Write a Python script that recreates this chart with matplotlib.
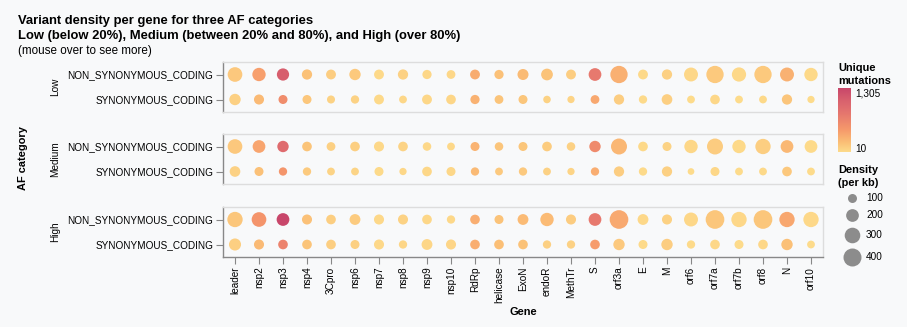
import matplotlib.pyplot as plt
import numpy as np
from matplotlib.colors import LinearSegmentedColormap, Normalize

# Genes along the x axis, effect types on the y axis, one panel per AF category
genes = ["leader", "nsp2", "nsp3", "nsp4", "3Cpro", "nsp6", "nsp7", "nsp8", "nsp9",
         "nsp10", "RdRp", "helicase", "ExoN", "endoR", "MethTr", "S", "orf3a", "E",
         "M", "orf6", "orf7a", "orf7b", "orf8", "N", "orf10"]
effects = ["NON_SYNONYMOUS_CODING", "SYNONYMOUS_CODING"]
af_categories = ["Low", "Medium", "High"]

# variant density (per kb)
low_nonsyn_density = [265, 220, 185, 130, 120, 160, 120, 130, 105, 95, 120, 105, 150,
                      170, 120, 200, 370, 120, 130, 240, 370, 250, 370, 240, 220]
low_syn_density = [160, 125, 100, 100, 80, 85, 120, 75, 120, 115, 105, 95, 100,
                   70, 65, 95, 130, 85, 140, 75, 115, 75, 75, 130, 65]
medium_nonsyn_density = [265, 200, 160, 115, 95, 115, 125, 115, 90, 75, 100, 90, 100,
                         115, 90, 160, 315, 115, 100, 220, 315, 220, 290, 200, 200]
medium_syn_density = [140, 100, 85, 85, 75, 75, 100, 65, 115, 100, 85, 75, 85,
                      75, 65, 85, 130, 85, 130, 55, 100, 75, 75, 115, 75]
high_nonsyn_density = [290, 265, 200, 125, 115, 145, 125, 125, 115, 85, 115, 100, 145,
                       220, 125, 200, 430, 145, 125, 240, 430, 290, 430, 290, 290]
high_syn_density = [180, 125, 115, 115, 115, 100, 125, 85, 145, 125, 115, 115, 115,
                    85, 85, 115, 160, 100, 160, 85, 115, 100, 115, 160, 75]

# unique mutations
low_nonsyn_count = [143, 420, 1080, 195, 110, 139, 30, 77, 36, 40, 336, 189, 237,
                    177, 107, 764, 307, 28, 87, 45, 137, 33, 137, 302, 26]
low_syn_count = [86, 240, 580, 150, 74, 74, 30, 45, 41, 48, 294, 171, 158,
                 73, 58, 363, 108, 20, 94, 14, 42, 10, 28, 164, 10]
medium_nonsyn_count = [143, 382, 934, 172, 87, 100, 31, 68, 31, 31, 280, 162, 158,
                       120, 80, 611, 261, 26, 67, 41, 115, 29, 106, 252, 23]
medium_syn_count = [76, 191, 496, 128, 69, 65, 25, 39, 39, 42, 238, 135, 134,
                    78, 58, 325, 108, 19, 87, 10, 37, 10, 27, 145, 10]
high_nonsyn_count = [157, 506, 1305, 188, 106, 126, 31, 74, 39, 35, 322, 180, 229,
                     228, 112, 764, 356, 33, 84, 45, 157, 38, 157, 365, 34]
high_syn_count = [97, 239, 671, 173, 106, 87, 31, 50, 49, 52, 322, 207, 182,
                  88, 76, 440, 133, 23, 107, 16, 42, 13, 42, 202, 10]

density_rows = [(low_nonsyn_density, low_syn_density),
                (medium_nonsyn_density, medium_syn_density),
                (high_nonsyn_density, high_syn_density)]
count_rows = [(low_nonsyn_count, low_syn_count),
              (medium_nonsyn_count, medium_syn_count),
              (high_nonsyn_count, high_syn_count)]

size_legend = [100, 200, 300, 400]
count_min, count_max = 10, 1305

W, H = 907, 327
BG = "#f8f9fa"
SIZE = 0.42  # marker area (pt^2) per unit of density
FONT = ["Liberation Sans", "DejaVu Sans"]
plt.rcParams["font.family"] = FONT

cmap = LinearSegmentedColormap.from_list("af", [
    (0.0, "#fddb8b"), (0.15, "#fbbf76"), (0.35, "#f6996b"),
    (0.6, "#e6776e"), (0.8, "#d9626e"), (1.0, "#c8466a")])
norm = Normalize(count_min, count_max)


def px_box(x0, y0, x1, y1):
    return [x0 / W, 1 - y1 / H, (x1 - x0) / W, (y1 - y0) / H]


fig = plt.figure(figsize=(W / 100, H / 100), dpi=100, facecolor=BG)

panels = [(223, 62, 823, 112), (223, 134, 823, 184), (223, 207, 823, 257)]
x = np.arange(len(genes))

for k, box in enumerate(panels):
    ax = fig.add_axes(px_box(*box))
    ax.set_facecolor(BG)
    for row in range(2):
        ax.scatter(x, np.full(len(genes), row),
                   s=SIZE * np.array(density_rows[k][row]),
                   c=count_rows[k][row], cmap=cmap, norm=norm, linewidths=0)
    ax.set_xlim(-0.5, len(genes) - 0.5)
    ax.set_ylim(1.5, -0.5)
    ax.set_yticks([0, 1])
    ax.set_yticklabels(effects)
    ax.tick_params(axis="y", length=5, color="#888888", labelsize=7.2, pad=2)
    for s in ax.spines.values():
        s.set_color("#dddddd")
        s.set_linewidth(1)
    ax.spines["left"].set_color("#888888")
    if k == 2:
        ax.set_xticks(x)
        ax.set_xticklabels(genes, rotation=90)
        ax.tick_params(axis="x", length=5, color="#888888", labelsize=7.2, pad=2)
        ax.spines["bottom"].set_color("#888888")
    else:
        ax.set_xticks([])
    cy = (box[1] + box[3]) / 2
    fig.text(55 / W, 1 - cy / H, af_categories[k], rotation=90,
             ha="center", va="center", fontsize=7.2)

# overlay in pixel coordinates for titles and legends
ov = fig.add_axes([0, 0, 1, 1])
ov.set_xlim(0, W)
ov.set_ylim(H, 0)
ov.axis("off")
ov.patch.set_alpha(0)

ov.text(18, 21, "Variant density per gene for three AF categories",
        fontsize=9.4, fontweight="bold", va="center")
ov.text(18, 36, "Low (below 20%), Medium (between 20% and 80%), and High (over 80%)",
        fontsize=9.4, fontweight="bold", va="center")
ov.text(18, 51, "(mouse over to see more)", fontsize=8.4, va="center")

ov.text(23, 158, "AF category", rotation=90, fontsize=7.9, fontweight="bold",
        ha="center", va="center")
ov.text(523, 312, "Gene", fontsize=7.9, fontweight="bold", ha="center", va="center")

# color legend
ov.text(838, 68, "Unique", fontsize=7.9, fontweight="bold", va="center")
ov.text(838, 81, "mutations", fontsize=7.9, fontweight="bold", va="center")
gax = fig.add_axes(px_box(838, 88, 851, 152))
gax.imshow(np.linspace(1, 0, 256)[:, None], aspect="auto", cmap=cmap,
           origin="upper")
gax.axis("off")
ov.text(855, 93, f"{count_max:,}", fontsize=7.2, va="center")
ov.text(855, 149, f"{count_min}", fontsize=7.2, va="center")

# size legend
ov.text(838, 170, "Density", fontsize=7.9, fontweight="bold", va="center")
ov.text(838, 183, "(per kb)", fontsize=7.9, fontweight="bold", va="center")
for v, yy in zip(size_legend, [198, 215, 235, 257]):
    ov.scatter([852], [yy], s=SIZE * v, color="#8c8c8c", linewidths=0)
    ov.text(866, yy, str(v), fontsize=7.2, va="center")

fig.savefig("out.png", dpi=100, facecolor=BG)
